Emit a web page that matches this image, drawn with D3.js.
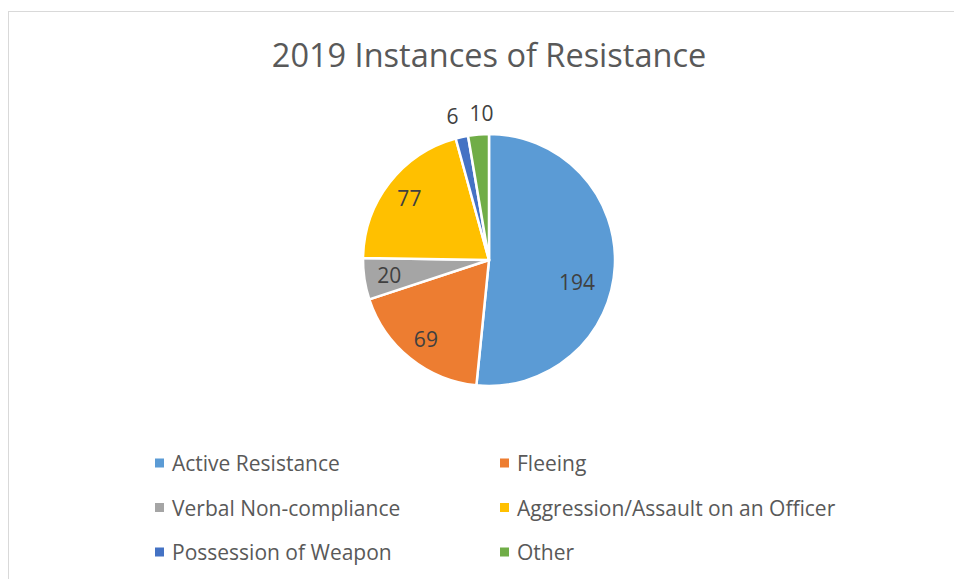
<!DOCTYPE html>
<html>
<head>
<meta charset="utf-8">
<script src="https://cdn.jsdelivr.net/npm/d3@7"></script>
<style>
  html, body { margin: 0; padding: 0; background: #fff; }
  svg { display: block; }
  text { font-family: "Open Sans", "Noto Sans", sans-serif; }
</style>
</head>
<body>
<svg id="chart" width="954" height="579"></svg>
<script>
const title = "2019 Instances of Resistance";
const categories = ["Active Resistance", "Fleeing", "Verbal Non-compliance", "Aggression/Assault on an Officer", "Possession of Weapon", "Other"];
const values = [194, 69, 20, 77, 6, 10];
const colors = ["#5B9BD5", "#ED7D31", "#A5A5A5", "#FFC000", "#4472C4", "#70AD47"];

const W = 954, H = 579;
const svg = d3.select("#chart");

// chart area border
svg.append("rect")
  .attr("x", 8.5).attr("y", 11.5)
  .attr("width", 1200).attr("height", 1200)
  .attr("fill", "none").attr("stroke", "#D9D9D9").attr("stroke-width", 1);

svg.append("text")
  .attr("x", 489).attr("y", 67)
  .attr("text-anchor", "middle")
  .attr("font-size", 32.5)
  .attr("fill", "#595959")
  .text(title);

const cx = 489, cy = 260, R = 126;
const data = categories.map((c, i) => ({ name: c, value: values[i], color: colors[i] }));

const pie = d3.pie().value(d => d.value).sort(null);
const arcs = pie(data);
const arc = d3.arc().innerRadius(0).outerRadius(R);

const g = svg.append("g").attr("transform", `translate(${cx},${cy})`);
g.selectAll("path").data(arcs).join("path")
  .attr("d", arc)
  .attr("fill", d => d.data.color)
  .attr("stroke", "#fff")
  .attr("stroke-width", 2.5)
  .attr("stroke-linejoin", "round");

// label placement: small slices outside, others inside
const total = d3.sum(values);
const inArc = d3.arc().innerRadius(R * 0.8).outerRadius(R * 0.8);
const outArc = d3.arc().innerRadius(R * 1.17).outerRadius(R * 1.17);
const labels = g.selectAll("text.lbl").data(arcs).join("text")
  .attr("class", "lbl")
  .attr("text-anchor", "middle")
  .attr("dominant-baseline", "central")
  .attr("font-size", 21)
  .attr("fill", "#404040")
  .text(d => d.data.value)
  .each(function(d) {
    const small = d.data.value / total < 0.04;
    const big = d.data.value / total > 0.5;
    let p;
    if (small) p = outArc.centroid(d);
    else if (big) {
      const a = (d.startAngle + d.endAngle) / 2 + 0.19;
      const r = R * 0.72;
      p = [r * Math.sin(a), -r * Math.cos(a)];
    } else p = inArc.centroid(d);
    d.lx = p[0]; d.ly = p[1]; d.small = small;
    d.w = this.getComputedTextLength();
  });

// separate neighbouring outside labels horizontally
const outs = arcs.filter(d => d.small).sort((a, b) => a.lx - b.lx);
const minGap = 11;
for (let i = 1; i < outs.length; i++) {
  const a = outs[i - 1], b = outs[i];
  const gap = (b.lx - b.w / 2) - (a.lx + a.w / 2);
  if (gap < minGap) {
    const push = (minGap - gap) / 2;
    a.lx -= push; b.lx += push;
  }
}
labels.attr("transform", d => `translate(${d.lx},${d.ly})`);

// legend
const colX = [155, 500];
const rowY = [463, 507.5, 552];
const leg = svg.append("g");
data.forEach((d, i) => {
  const x = colX[i % 2], y = rowY[Math.floor(i / 2)];
  leg.append("rect")
    .attr("x", x).attr("y", y - 4.5)
    .attr("width", 9).attr("height", 9)
    .attr("fill", d.color);
  leg.append("text")
    .attr("x", x + 17).attr("y", y)
    .attr("dominant-baseline", "central")
    .attr("font-size", 21)
    .attr("fill", "#595959")
    .text(d.name);
});
</script>
</body>
</html>
